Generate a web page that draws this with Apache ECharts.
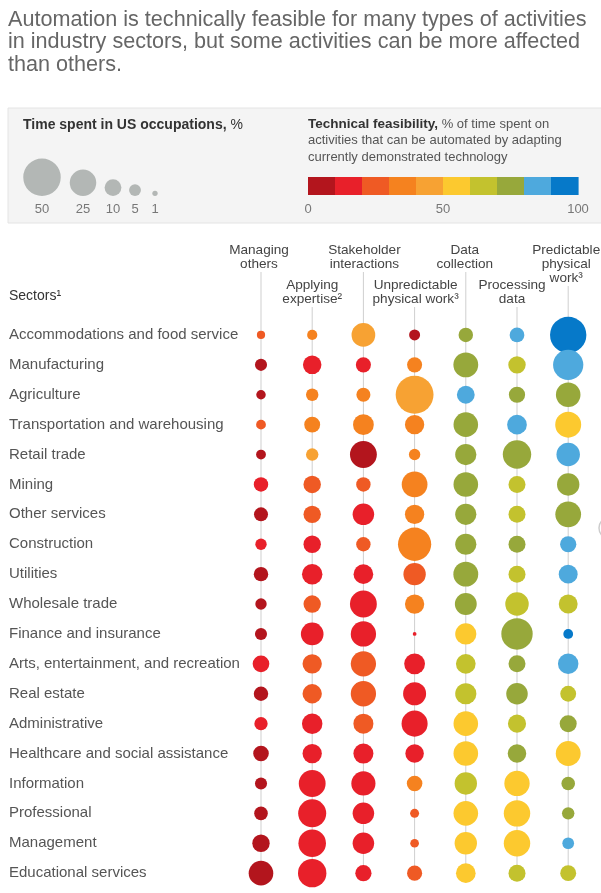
<!DOCTYPE html>
<html><head><meta charset="utf-8">
<script src="https://cdn.jsdelivr.net/npm/echarts@6/dist/echarts.min.js"></script>
<style>html,body{margin:0;padding:0;background:#fff}#c{width:601px;height:893px}</style>
</head><body><div id="c"></div>
<script>
// ---------- data ----------
const titleText = 'Automation is technically feasible for many types of activities\nin industry sectors, but some activities can be more affected\nthan others.';
const sectors = [
  'Accommodations and food service','Manufacturing','Agriculture','Transportation and warehousing',
  'Retail trade','Mining','Other services','Construction','Utilities','Wholesale trade',
  'Finance and insurance','Arts, entertainment, and recreation','Real estate','Administrative',
  'Healthcare and social assistance','Information','Professional','Management','Educational services'
];
const activities = ['Managing others','Applying expertise','Stakeholder interactions',
  'Unpredictable physical work','Data collection','Processing data','Predictable physical work'];
const activityHeaders = ['Managing\nothers','Applying\nexpertise²','Stakeholder\ninteractions',
  'Unpredictable\nphysical work³','Data\ncollection','Processing\ndata','Predictable\nphysical\nwork³'];
// time spent in US occupations, % (bubble size)
const timeSpent = [
  [2.4, 3.7, 20, 4.3, 7.4, 7.7, 47],
  [5.2, 12.2, 8.1, 8.1, 22, 10.8, 32.6],
  [3.2, 5.5, 7, 51, 11.3, 9.4, 21.5],
  [3.4, 9, 15.4, 13.3, 21.5, 13.8, 24],
  [3.4, 5.5, 25.7, 4.6, 16, 28.7, 19.6],
  [7.4, 10.8, 7.4, 23.6, 21.5, 10.3, 17.8],
  [7, 10.8, 16.5, 13.3, 16, 10.3, 23.6],
  [4.6, 10.8, 7.4, 39.4, 16, 10.3, 9.4],
  [7.4, 14.9, 13.8, 17.8, 22, 10.3, 12.7],
  [4.6, 10.8, 25.7, 13.3, 17, 19.6, 12.7],
  [5.2, 18.3, 22.8, 0.5, 16, 35, 3.4],
  [9.9, 13.3, 22.8, 15.4, 13.8, 10.3, 14.9],
  [7.4, 13.3, 22.8, 18.9, 16, 16.5, 9],
  [6.3, 14.9, 14.3, 24.2, 21.5, 11.7, 10.3],
  [8.6, 13.3, 14.3, 12.2, 21.5, 12.2, 22],
  [5.2, 25.7, 20.8, 8.6, 17.8, 22.8, 6.6],
  [6.6, 28, 16.5, 2.9, 21.5, 24.9, 5.5],
  [10.8, 27, 16.5, 2.7, 17.8, 24.9, 4.9],
  [21.5, 28.7, 9.4, 8.1, 13.8, 10.3, 9]
];
// technical feasibility, % (bubble colour)
const feasibility = [
  [25,35,45,5,75,85,95],
  [5,15,15,35,75,65,85],
  [5,35,35,45,85,75,75],
  [25,35,35,35,75,85,55],
  [5,45,5,35,75,75,85],
  [15,25,25,35,75,65,75],
  [5,25,15,35,75,65,75],
  [15,15,25,35,75,75,85],
  [5,15,15,25,75,65,85],
  [5,25,15,35,75,65,65],
  [5,15,15,15,55,75,95],
  [15,25,25,15,65,75,85],
  [5,25,25,15,65,75,65],
  [15,15,25,15,55,65,75],
  [5,15,15,15,55,75,55],
  [5,15,15,35,65,55,75],
  [5,15,15,25,55,55,75],
  [5,15,15,25,55,55,85],
  [5,15,15,25,55,65,65]
];
const sizeLegendValues = [50, 25, 10, 5, 1];
const feasibilityBins = [0,10,20,30,40,50,60,70,80,90,100];
const binColors = ['#b3151d','#e8202a','#ef5a24','#f5821f','#f7a233','#fcc92f','#c3c22e','#97a83b','#4ea9dd','#0679c9'];
const feasibilityTicks = [0, 50, 100];

// ---------- layout / style ----------
const FONT = '"Liberation Sans", Arial, Helvetica, sans-serif';
const SIZE_K = 5.3;
function diam(v){ return SIZE_K * Math.sqrt(v); }
const headerRow = [0,1,0,1,0,1,0];
const headerDx = [-2,0,1,1,-1,-5,-2];
const sizeLegendX = [42, 83, 113, 135, 155];

const points = [];
timeSpent.forEach((row, r) => row.forEach((v, c) => points.push([c, r, v, feasibility[r][c]])));
const binData = [];
for (let i = 0; i < feasibilityBins.length - 1; i++) binData.push([feasibilityBins[i], feasibilityBins[i+1], 0.5]);
const pieces = binColors.map((col, i) => ({gte: feasibilityBins[i], lt: feasibilityBins[i+1] + (i === binColors.length-1 ? 0.001 : 0), color: col}));

const chart = echarts.init(document.getElementById('c'), null, {renderer:'canvas'});
chart.setOption({
  animation: false,
  textStyle: {fontFamily: FONT},
  title: {text: titleText, left: 8, top: 8.5, padding: 0,
    textStyle: {fontSize: 21.6, lineHeight: 22.5, color: '#666', fontWeight: 'normal', fontFamily: FONT}},
  grid: [
    {left: 235.4, width: 358.4, top: 320, height: 568.1},
    {left: 308, width: 270, top: 177, height: 18}
  ],
  xAxis: [
    {type: 'category', data: activities, gridIndex: 0, show: false},
    {type: 'value', gridIndex: 1, min: 0, max: 100, interval: 50,
      axisLine: {show: false}, axisTick: {show: false}, splitLine: {show: false},
      axisLabel: {color: '#777', fontSize: 13, margin: 8, fontFamily: FONT,
        customValues: feasibilityTicks}}
  ],
  yAxis: [
    {type: 'category', data: sectors, inverse: true, gridIndex: 0,
      axisLine: {show: false}, axisTick: {show: false}, splitLine: {show: false},
      axisLabel: {align: 'left', margin: 226.4, fontSize: 15, color: '#555', fontFamily: FONT}},
    {type: 'value', gridIndex: 1, min: 0, max: 1, show: false}
  ],
  visualMap: {type: 'piecewise', show: false, dimension: 3, seriesIndex: 0, pieces: pieces},
  series: [
    {type: 'scatter', xAxisIndex: 0, yAxisIndex: 0, data: points, z: 3,
      symbolSize: d => diam(d[2]), itemStyle: {opacity: 1}},
    {type: 'custom', xAxisIndex: 1, yAxisIndex: 1, data: binData, encode: {x: [0,1], y: 2},
      renderItem: (params, api) => {
        const s = api.coord([api.value(0), 0]);
        const e = api.coord([api.value(1), 1]);
        return {type: 'rect', shape: {x: s[0], y: e[1], width: e[0]-s[0]+0.6, height: s[1]-e[1]},
          style: {fill: binColors[params.dataIndex]}};
      }}
  ]
});

// ---------- graphics (legend, headers, guide lines) ----------
const g = [];
g.push({type: 'rect', z: 0, shape: {x: 8, y: 108, width: 600, height: 115},
  style: {fill: '#f4f4f4', stroke: '#e4e4e4', lineWidth: 1}});
g.push({type: 'text', z: 1, x: 23, y: 125, style: {
  text: '{b|Time spent in US occupations,} %', rich: {b: {fontWeight: 'bold', fontSize: 14, fill: '#333', fontFamily: FONT}},
  fontSize: 14, fill: '#333', fontFamily: FONT, verticalAlign: 'middle'}});
g.push({type: 'text', z: 1, x: 308, y: 116, style: {
  text: '{b|Technical feasibility,} % of time spent on\nactivities that can be automated by adapting\ncurrently demonstrated technology',
  rich: {b: {fontWeight: 'bold', fontSize: 13.5, fill: '#333', fontFamily: FONT, lineHeight: 16.5}},
  fontSize: 13, lineHeight: 16.5, fill: '#555', fontFamily: FONT}});
sizeLegendValues.forEach((v, i) => {
  const r = diam(v) / 2;
  g.push({type: 'circle', z: 1, shape: {cx: sizeLegendX[i], cy: 196 - r, r: r}, style: {fill: '#b3b7b5'}});
  g.push({type: 'text', z: 1, x: sizeLegendX[i], y: 209, style: {text: String(v), fontSize: 13, fill: '#777',
    fontFamily: FONT, align: 'center', verticalAlign: 'middle'}});
});
g.push({type: 'text', z: 1, x: 9, y: 296, style: {text: 'Sectors¹', fontSize: 14, fill: '#333',
  fontFamily: FONT, verticalAlign: 'middle'}});

const lastY = chart.convertToPixel({gridIndex: 0}, [0, sectors.length - 1])[1];
activities.forEach((a, i) => {
  const px = chart.convertToPixel({gridIndex: 0}, [i, 0])[0];
  const lines = activityHeaders[i].split('\n').length;
  const firstC = headerRow[i] ? 285 : 250;
  const top = firstC - 7;
  g.push({type: 'text', z: 1, x: px + headerDx[i], y: top, style: {text: activityHeaders[i], fontSize: 13.6,
    lineHeight: 14, fill: '#444', fontFamily: FONT, align: 'center', verticalAlign: 'top'}});
  g.push({type: 'line', z: 1, shape: {x1: px, y1: top + lines*14 + 1, x2: px, y2: lastY},
    style: {stroke: '#cfcfcf', lineWidth: 1}});
});
g.push({type: 'circle', z: 1, shape: {cx: 610, cy: 528, r: 11}, style: {fill: '#fff', stroke: '#cccccc', lineWidth: 1.5}});
chart.setOption({graphic: g});
</script>
</body></html>
